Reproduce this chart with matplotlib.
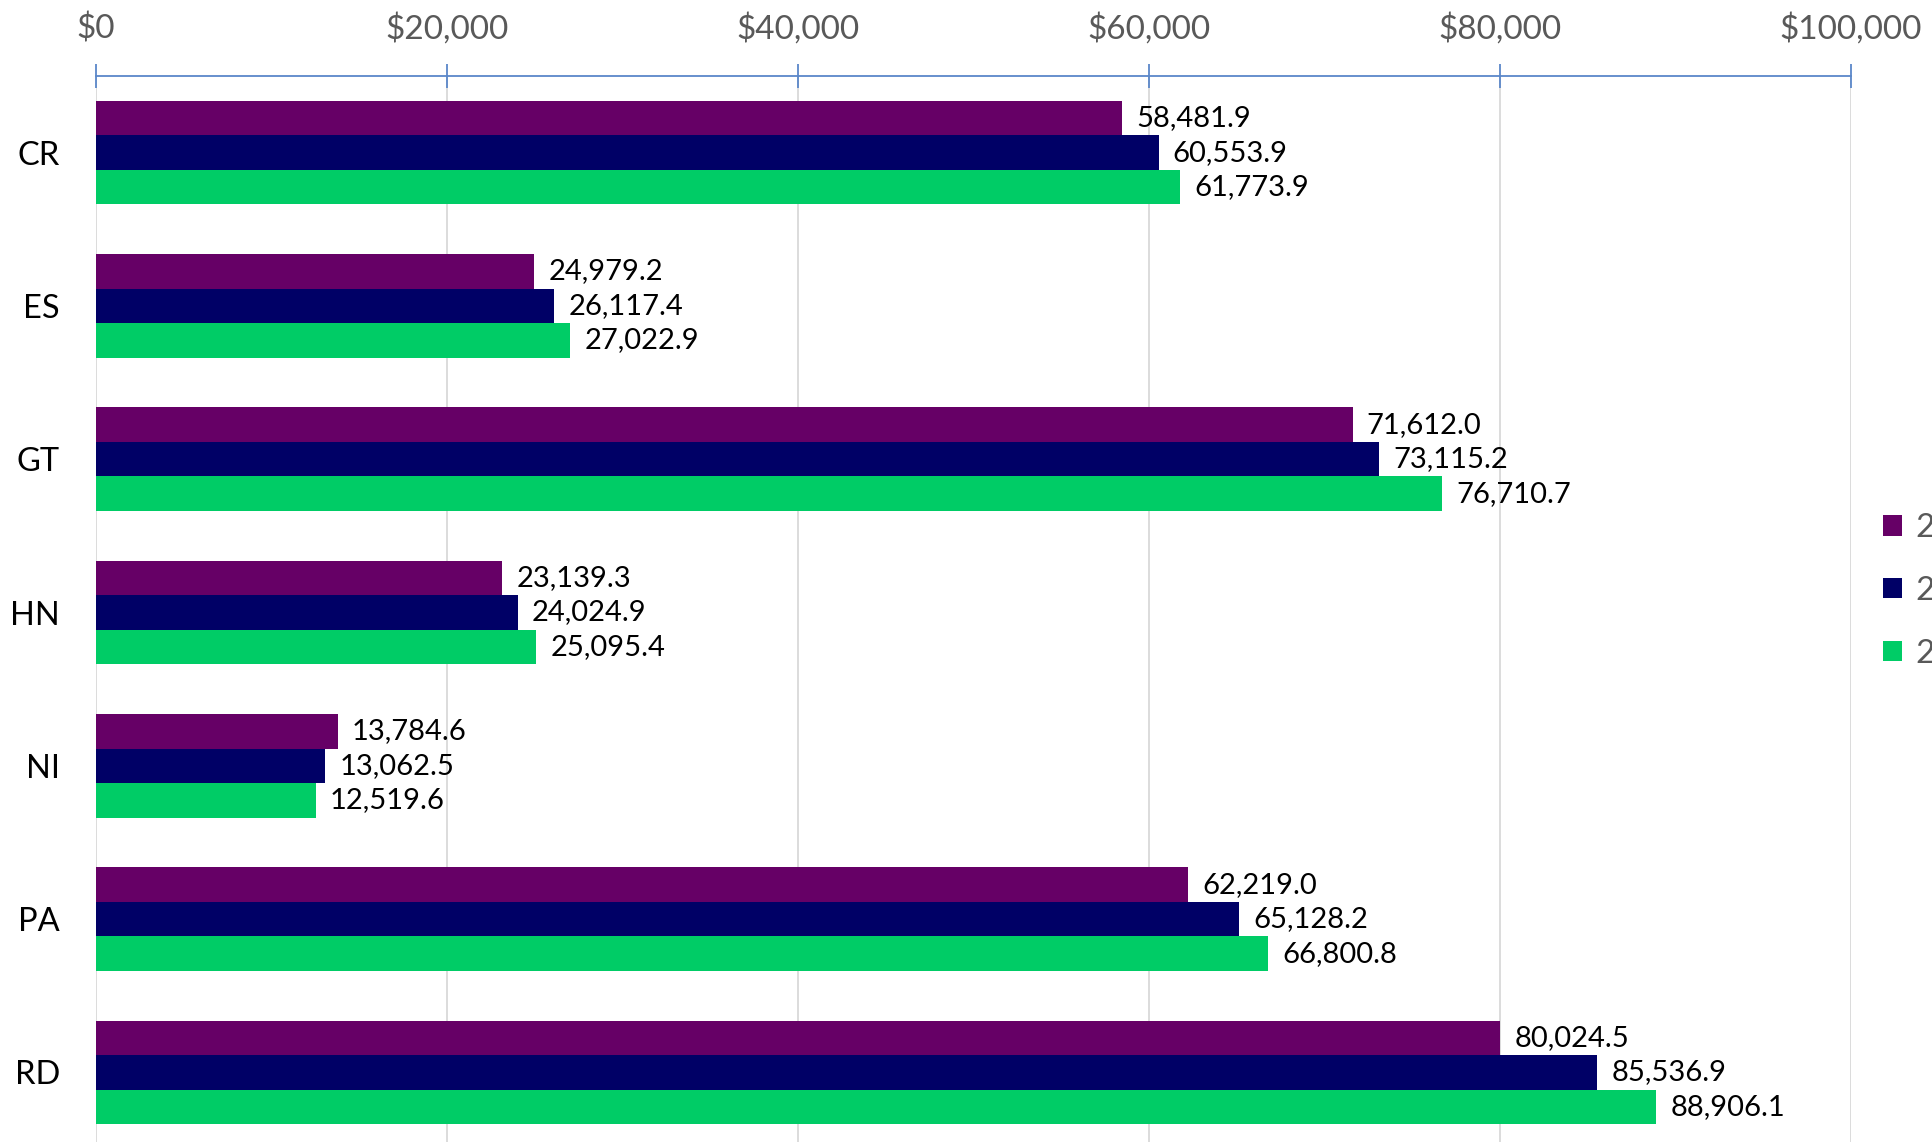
import matplotlib
matplotlib.use("Agg")
import matplotlib.pyplot as plt
from matplotlib.ticker import FuncFormatter
import numpy as np

plt.rcParams['font.family'] = ['Lato', 'DejaVu Sans']

countries = ['CR', 'ES', 'GT', 'HN', 'NI', 'PA', 'RD']
series_labels = ['2', '2', '2']
vals_a = [58481.9, 24979.2, 71612.0, 23139.3, 13784.6, 62219.0, 80024.5]
vals_b = [60553.9, 26117.4, 73115.2, 24024.9, 13062.5, 65128.2, 85536.9]
vals_c = [61773.9, 27022.9, 76710.7, 25095.4, 12519.6, 66800.8, 88906.1]
colors = ['#660066', '#000066', '#00CC66']

W, H = 1932, 1142
fig = plt.figure(figsize=(W / 100, H / 100), dpi=100)
ax = fig.add_axes([96 / W, 1 - 1149 / H, (1851 - 96) / W, (1149 - 76) / H])

y = np.arange(len(countries))
bh = 0.225
for i, (vals, col, lab) in enumerate(zip([vals_a, vals_b, vals_c], colors, series_labels)):
    pos = y + (i - 1) * bh
    ax.barh(pos, vals, height=bh, color=col, label=lab, zorder=3)
    for p, v in zip(pos, vals):
        ax.text(v + 800, p, f'{v:,.1f}', va='center', ha='left',
                fontsize=21, color='black', zorder=4)

ax.set_xlim(0, 100000)
ax.set_ylim(len(countries) - 0.5, -0.5)
ax.set_yticks(y)
ax.set_yticklabels(countries, fontsize=23.5, color='black')
ax.tick_params(axis='y', length=0, pad=26)

ax.xaxis.tick_top()
ax.set_xticks(np.arange(0, 100001, 20000))
ax.xaxis.set_major_formatter(FuncFormatter(lambda v, _: f'${v:,.0f}'))
ax.tick_params(axis='x', direction='inout', length=17, width=1.3,
               color='#5B87C9', labelsize=24, labelcolor='#595959', pad=14)

for s in ['left', 'right', 'bottom']:
    ax.spines[s].set_visible(False)
ax.spines['top'].set_color('#5B87C9')
ax.spines['top'].set_linewidth(1.3)
ax.grid(axis='x', color='#D9D9D9', linewidth=1.3, zorder=0)
ax.set_axisbelow(True)

fig.legend(loc='upper left', bbox_to_anchor=(1870 / W, 1 - 500 / H),
           frameon=False, fontsize=24, labelcolor='#595959',
           handlelength=0.57, handleheight=0.57, handletextpad=0.4,
           labelspacing=0.98, borderaxespad=0)

fig.savefig('out.png', dpi=100)
